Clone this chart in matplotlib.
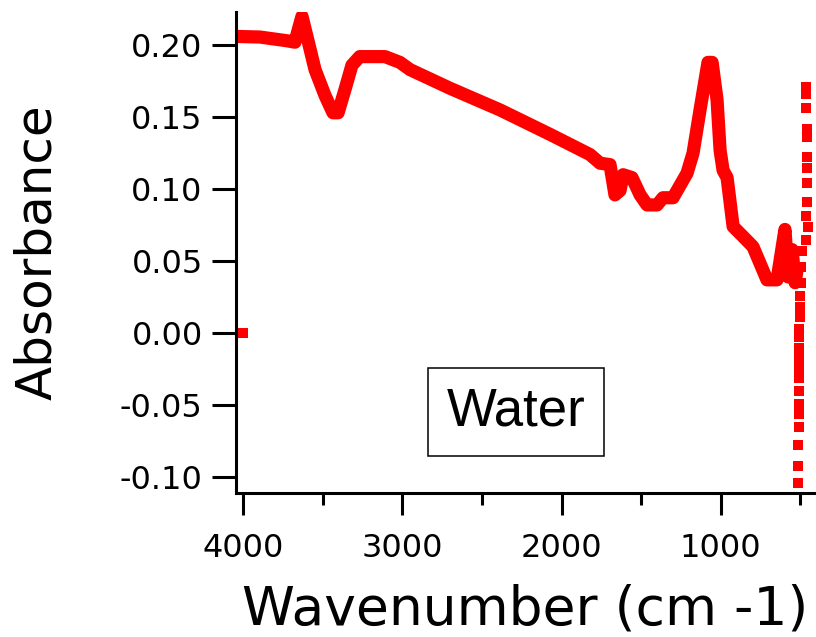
import numpy as np
import matplotlib.pyplot as plt

# FTIR spectrum of water
wavenumber = [4040, 3896, 3726, 3676, 3657, 3632, 3594, 3550, 3487, 3437,
              3405, 3362, 3318, 3269, 3110, 3016, 2953, 2701, 2387, 2072,
              1821, 1758, 1695, 1664, 1632, 1613, 1557, 1506, 1462, 1399,
              1362, 1299, 1211, 1173, 1129, 1079, 1053, 1022, 1003, 984,
              959, 921, 858, 796, 708, 645, 595, 575, 550, 531, 519]
absorbance = [0.206, 0.2056, 0.203, 0.202, 0.210, 0.220, 0.203, 0.183, 0.165, 0.153,
              0.153, 0.169, 0.186, 0.192, 0.192, 0.188, 0.183, 0.170, 0.155, 0.138,
              0.124, 0.118, 0.117, 0.096, 0.099, 0.110, 0.108, 0.096, 0.089, 0.089,
              0.094, 0.094, 0.111, 0.125, 0.155, 0.188, 0.188, 0.162, 0.127, 0.113,
              0.108, 0.074, 0.067, 0.060, 0.037, 0.037, 0.072, 0.039, 0.058, 0.035, 0.044]

# noisy low-wavenumber end, shown as separate square points
tail_wn = [462, 462, 462, 458, 458, 458, 458, 458, 458, 462,
           450, 462, 490, 495, 495, 500, 500, 500, 505, 505,
           505, 505, 505, 505, 505, 505, 508, 508, 510, 512, 512]
tail_abs = [0.171, 0.166, 0.156, 0.142, 0.136, 0.122, 0.115, 0.104, 0.091, 0.081,
            0.074, 0.065, 0.057, 0.046, 0.035, 0.026, 0.018, 0.011, 0.003, -0.003,
            -0.010, -0.017, -0.024, -0.031, -0.040, -0.049, -0.056, -0.065, -0.078, -0.092, -0.104]

stray_wn = [4000]
stray_abs = [0.0]

fig = plt.figure(figsize=(8.16, 6.37), dpi=100)
ax = fig.add_axes([0.2892, 0.2261, 0.7096, 0.7551])

red = '#ff0000'
ax.plot(wavenumber, absorbance, color=red, lw=9.5, solid_joinstyle='round', solid_capstyle='butt')
ax.plot(tail_wn, tail_abs, ls='none', marker='s', ms=6.5, color=red, mew=0)
ax.plot(stray_wn, stray_abs, ls='none', marker='s', ms=6.5, color=red, mew=0)

ax.set_xlim(4047, 406)
ax.set_ylim(-0.111, 0.223)

ax.set_xticks([4000, 3000, 2000, 1000])
ax.set_xticks([3500, 2500, 1500, 500], minor=True)
ax.set_yticks(np.arange(-0.10, 0.201, 0.05))
ax.set_yticklabels(['%.2f' % v for v in np.arange(-0.10, 0.201, 0.05)])

for s in ['top', 'right']:
    ax.spines[s].set_visible(False)
for s in ['left', 'bottom']:
    ax.spines[s].set_linewidth(2.2)

ax.tick_params(axis='both', which='major', direction='out', width=2.2, labelsize=23)
ax.tick_params(axis='x', which='major', length=16, pad=13)
ax.tick_params(axis='x', which='minor', length=8.5, width=2.2)
ax.tick_params(axis='y', which='major', length=17, pad=7)

ax.set_xlabel('Wavenumber (cm -1)', fontsize=38.5, labelpad=14)
ax.set_ylabel('Absorbance', fontsize=36, labelpad=42)

ax.text(0.4836, 0.1684, 'Water', transform=ax.transAxes, ha='center', va='center',
        fontsize=38, family='Liberation Sans',
        bbox=dict(boxstyle='square,pad=0.36', fc='white', ec='black', lw=1.1))

fig.savefig('out.png', dpi=100)
